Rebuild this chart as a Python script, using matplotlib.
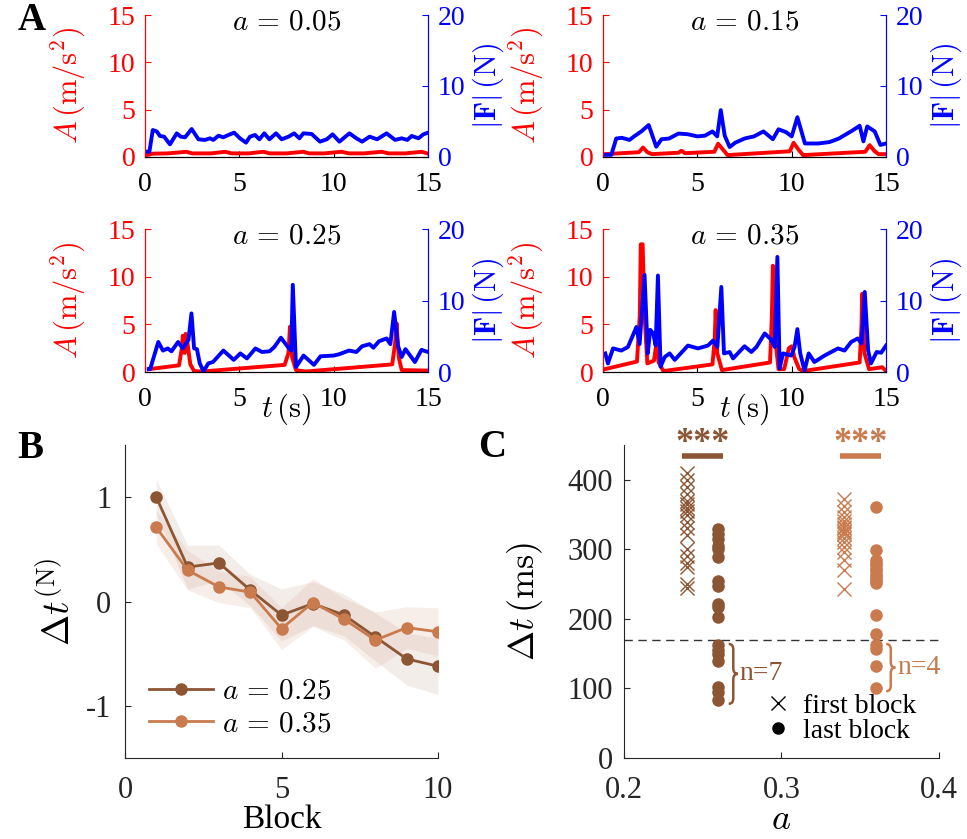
import matplotlib.pyplot as plt
from matplotlib.lines import Line2D
from matplotlib.path import Path
from matplotlib.patches import PathPatch

plt.rcParams['font.family'] = 'Liberation Serif'
plt.rcParams['mathtext.fontset'] = 'cm'

# ---------------- dados do painel A (t em s, A em m/s^2, |F| em N)
a_titles = ['0.05', '0.15', '0.25', '0.35']

tA_005 = [0.1, 0.4, 1.2, 2.2, 2.5, 3.5, 4.24, 4.6, 5.5, 6.27, 6.6, 7.5, 8.39, 8.7, 9.5, 10.42, 10.8, 11.6, 12.54, 12.9, 13.8, 14.66, 15.0]
A_005 = [0.2, 0.35, 0.38, 0.55, 0.38, 0.38, 0.55, 0.38, 0.38, 0.55, 0.38, 0.38, 0.55, 0.38, 0.38, 0.55, 0.38, 0.38, 0.55, 0.38, 0.38, 0.55, 0.35]
tF_005 = [0.09, 0.23, 0.41, 0.62, 0.79, 1.01, 1.32, 1.68, 1.89, 2.12, 2.47, 2.83, 3.18, 3.44, 3.62, 3.89, 4.15,
          4.42, 4.72, 5.03, 5.35, 5.56, 5.83, 6.06, 6.32, 6.59, 6.94, 7.24, 7.6, 7.9, 8.18, 8.39, 8.83, 9.27,
          9.63, 9.94, 10.3, 10.83, 11.2, 11.5, 11.9, 12.3, 12.8, 13.25, 13.6, 13.9, 14.13, 14.49, 14.75, 15.0]
F_005 = [0.75, 0.75, 3.8, 3.6, 2.96, 2.86, 1.78, 3.33, 2.86, 2.77, 3.94, 2.49, 2.4, 2.63, 2.4, 3.0, 2.77,
         3.1, 3.43, 2.63, 2.02, 2.86, 3.1, 2.49, 3.33, 2.49, 3.33, 2.49, 2.86, 3.33, 2.63, 3.33, 3.24, 2.16,
         2.49, 3.19, 2.16, 3.33, 2.63, 2.16, 2.86, 2.49, 3.33, 2.4, 2.63, 2.4, 2.96, 2.63, 3.19, 3.43]

tA_015 = [0.1, 1.9, 2.12, 2.35, 2.6, 4.0, 4.15, 4.35, 5.9, 6.1, 6.35, 6.6, 9.9, 10.1, 10.35, 10.6, 13.9, 14.13, 14.4, 14.6, 15.0]
A_015 = [0.3, 0.5, 1.0, 0.5, 0.3, 0.45, 0.65, 0.4, 0.55, 1.4, 0.8, 0.2, 0.6, 1.5, 0.8, 0.2, 0.55, 1.25, 0.6, 0.3, 0.3]
tF_015 = [0.1, 0.44, 0.7, 1.0, 1.4, 1.7, 2.03, 2.42, 2.82, 3.1, 3.5, 4.0, 4.5, 5.0, 5.4, 5.8, 6.05, 6.24, 6.45,
          6.71, 7.0, 7.5, 8.0, 8.5, 9.0, 9.3, 9.7, 10.0, 10.3, 10.7, 11.4, 12.0, 12.5, 13.2, 13.6, 13.8, 14.0,
          14.4, 14.7, 15.0]
F_015 = [0.3, 0.3, 2.6, 2.7, 2.4, 3.0, 3.6, 4.5, 1.45, 2.5, 2.6, 3.3, 3.2, 2.9, 3.0, 3.6, 2.9, 6.6, 3.0,
         1.4, 2.0, 2.6, 2.9, 3.6, 2.5, 3.9, 3.5, 2.9, 5.6, 1.9, 1.9, 2.1, 2.6, 3.7, 4.4, 2.2, 4.3,
         3.6, 1.7, 1.9]

tA_025 = [0.2, 1.8, 1.95, 2.0, 2.1, 2.15, 2.25, 2.4, 2.6, 3.0, 7.4, 7.6, 7.68, 7.8, 8.0, 8.5, 13.1, 13.25,
          13.33, 13.45, 13.6, 15.0]
A_025 = [0.3, 0.7, 2.5, 3.8, 2.0, 4.0, 3.0, 0.8, 0.1, 0.05, 0.75, 2.0, 4.75, 1.5, 0.2, 0.05, 0.8, 3.0,
         5.1, 1.5, 0.2, 0.15]
tF_025 = [0.2, 0.27, 0.7, 0.95, 1.2, 1.4, 1.75, 2.0, 2.3, 2.46, 2.6, 2.75, 2.9, 3.1, 3.35, 3.6, 4.15, 4.7,
          5.05, 5.4, 5.85, 6.2, 6.6, 6.85, 7.2, 7.6, 7.75, 7.83, 8.0, 8.4, 8.95, 9.3, 10.0, 10.3, 10.8, 11.2,
          11.5, 11.9, 12.1, 12.4, 12.8, 13.0, 13.2, 13.4, 13.6, 13.8, 14.05, 14.3, 14.65, 15.0]
F_025 = [0.4, 0.4, 4.2, 3.0, 3.3, 2.9, 4.2, 3.3, 4.5, 8.2, 3.3, 3.2, 1.2, 0.1, 1.2, 1.4, 3.0, 1.7,
         2.6, 1.9, 3.3, 2.8, 2.9, 3.5, 4.8, 3.4, 3.0, 12.2, 0.7, 2.3, 1.0, 2.2, 2.3, 2.5, 3.0, 2.8,
         3.6, 3.9, 3.4, 4.3, 4.7, 3.9, 8.4, 3.7, 2.1, 3.2, 2.3, 1.4, 3.1, 2.8]

tA_035 = [0.1, 1.8, 1.95, 2.0, 2.1, 2.2, 2.35, 2.7, 2.83, 2.95, 3.2, 5.8, 5.92, 5.97, 6.05, 6.3, 8.85, 8.95,
          9.0, 9.1, 9.3, 9.6, 9.85, 10.0, 10.15, 10.4, 10.6, 13.6, 13.7, 13.73, 13.85, 14.1, 14.8, 15.0]
A_035 = [0.3, 1.1, 6.0, 13.4, 13.4, 6.0, 0.9, 1.2, 3.0, 1.0, 0.1, 0.8, 3.5, 6.5, 2.0, 0.2, 1.0, 6.0,
         11.15, 4.0, 0.3, 0.3, 2.5, 2.7, 1.5, 0.3, 0.1, 1.0, 5.0, 8.2, 2.0, 0.3, 0.5, 0.1]
tF_035 = [0.12, 0.26, 0.53, 0.97, 1.32, 1.77, 1.94, 2.2, 2.37, 2.5, 2.66, 2.79, 2.91, 3.05, 3.27, 3.53, 3.8,
          4.5, 5.03, 5.56, 5.83, 6.06, 6.27, 6.41, 6.71, 6.89, 7.5, 7.86, 8.13, 8.57, 8.92, 9.1, 9.24, 9.36,
          9.54, 9.98, 10.15, 10.3, 10.45, 10.68, 10.9, 11.2, 11.74, 12.45, 12.8, 13.15, 13.5, 13.7, 13.87,
          14.05, 14.2, 14.5, 14.74, 15.0]
F_035 = [2.6, 1.2, 3.3, 3.0, 3.5, 6.3, 3.9, 13.6, 2.6, 5.9, 5.4, 3.7, 13.5, 0.75, 2.1, 2.6, 1.7,
         3.7, 3.3, 3.7, 4.4, 3.5, 11.9, 2.6, 2.8, 1.9, 3.6, 2.8, 3.5, 5.4, 4.5, 3.5, 16.1, 0.5,
         2.6, 2.3, 3.5, 6.0, 2.6, 0.2, 2.6, 1.4, 2.3, 3.3, 3.0, 4.2, 4.7, 4.0, 11.2,
         3.0, 1.2, 2.8, 2.7, 3.7]

# ---------------- dados do painel B
blocks = [1, 2, 3, 4, 5, 6, 7, 8, 9, 10]
dt_025 = [1.0, 0.33, 0.37, 0.11, -0.13, -0.02, -0.13, -0.34, -0.55, -0.62]
se_025 = [0.17, 0.21, 0.17, 0.15, 0.25, 0.21, 0.2, 0.23, 0.25, 0.27]
dt_035 = [0.71, 0.30, 0.14, 0.09, -0.26, -0.01, -0.17, -0.37, -0.25, -0.29]
se_035 = [0.16, 0.19, 0.15, 0.15, 0.2, 0.23, 0.2, 0.27, 0.2, 0.23]

# ---------------- dados do painel C (ms)
x_first_025, x_last_025 = 0.24, 0.26
x_first_035, x_last_035 = 0.34, 0.36
first_025 = [410, 400, 390, 380, 370, 365, 360, 355, 350, 340, 330, 320, 300, 290, 280, 275, 250, 245]
last_025 = [329, 322, 315, 305, 301, 289, 255, 248, 222, 217, 203, 162, 155, 150, 140, 102, 95, 83]
first_035 = [372, 363, 353, 346, 341, 336, 332, 330, 327, 325, 322, 317, 310, 303, 296, 284, 270, 243]
last_035 = [361, 299, 285, 280, 278, 272, 270, 265, 262, 258, 255, 252, 206, 178, 163, 157, 133, 101]
threshold = 170

red = '#ff0000'
blue = '#0000ff'
dark = '#8c5534'
light = '#c97b4e'

fig = plt.figure(figsize=(9.67, 8.39), dpi=100)

# ---------------- painel A
series = [(tA_005, A_005, tF_005, F_005), (tA_015, A_015, tF_015, F_015),
          (tA_025, A_025, tF_025, F_025), (tA_035, A_035, tF_035, F_035)]
positions = [[0.150, 0.8129, 0.2927, 0.1692], [0.6236, 0.8129, 0.2927, 0.1692],
             [0.150, 0.5566, 0.2927, 0.1704], [0.6236, 0.5566, 0.2927, 0.1704]]

for i, (tA, A, tF, F) in enumerate(series):
    ax = fig.add_axes(positions[i])
    ax2 = ax.twinx()
    ax.plot(tA, A, color=red, lw=2.8)
    ax2.plot(tF, F, color=blue, lw=2.8)
    ax.set_xlim(0, 15)
    ax.set_ylim(0, 15)
    ax2.set_ylim(0, 20)
    ax.set_xticks([0, 5, 10, 15])
    ax.set_yticks([0, 5, 10, 15])
    ax2.set_yticks([0, 10, 20])
    for a in (ax, ax2):
        a.spines['top'].set_visible(False)
        a.spines['left'].set_color(red)
        a.spines['right'].set_color(blue)
        a.spines['left'].set_linewidth(0.8)
        a.spines['right'].set_linewidth(0.8)
        a.spines['bottom'].set_linewidth(0.8)
    ax.tick_params(axis='x', direction='in', labelsize=20, pad=11, length=4)
    ax.tick_params(axis='y', direction='in', labelsize=20, pad=7, length=4, colors=red)
    ax2.tick_params(axis='y', direction='in', labelsize=20, pad=7, length=4, colors=blue)
    ax.set_ylabel(r'$A\,(\mathrm{m/s^2})$', color=red, fontsize=22)
    ax.yaxis.set_label_coords(-0.2, 0.5)
    ax2.set_ylabel(r'$|\mathbf{F}|\,(\mathrm{N})$', color=blue, fontsize=22)
    ax2.yaxis.set_label_coords(1.15, 0.5)
    ax.text(0.5, 0.95, r'$a\,=\,' + a_titles[i] + '$', transform=ax.transAxes,
            ha='center', va='center', fontsize=21)
    if i >= 2:
        ax.set_xlabel(r'$t\,(\mathrm{s})$', fontsize=22)
        ax.xaxis.set_label_coords(0.5, -0.26)
        ax.xaxis.label.set_va('center')

# ---------------- painel B
axB = fig.add_axes([0.1293, 0.0965, 0.3237, 0.3731])
axB.fill_between(blocks, [m + s for m, s in zip(dt_025, se_025)], [m - s for m, s in zip(dt_025, se_025)],
                 color=dark, alpha=0.1, lw=0)
axB.fill_between(blocks, [m + s for m, s in zip(dt_035, se_035)], [m - s for m, s in zip(dt_035, se_035)],
                 color=light, alpha=0.12, lw=0)
axB.plot(blocks, dt_025, '-o', color=dark, lw=2, ms=8, label=r'$a\,=\,0.25$')
axB.plot(blocks, dt_035, '-o', color=light, lw=2, ms=8, label=r'$a\,=\,0.35$')
axB.set_xlim(0, 10)
axB.set_ylim(-1.5, 1.5)
axB.set_xticks([0, 5, 10])
axB.set_yticks([-1, 0, 1])
axB.set_yticklabels(['-1', '0', '1'])
axB.tick_params(direction='in', labelsize=22, length=4, colors='#262626')
axB.tick_params(axis='x', pad=13)
axB.tick_params(axis='y', pad=10)
for s in ['top', 'right']:
    axB.spines[s].set_visible(False)
for s in ['left', 'bottom']:
    axB.spines[s].set_color('#262626')
    axB.spines[s].set_linewidth(0.8)
axB.set_xlabel('Block', fontsize=24)
axB.xaxis.set_label_coords(0.5, -0.197)
axB.xaxis.label.set_va('center')
axB.set_ylabel(r'$\Delta t^{(\mathrm{N})}$', fontsize=27)
axB.yaxis.set_label_coords(-0.15, 0.5)
axB.legend(loc='lower left', bbox_to_anchor=(0.03, 0.02), frameon=False, fontsize=21,
           handlelength=2.2, handletextpad=0.3, labelspacing=0.2, borderpad=0)

# ---------------- painel C
axC = fig.add_axes([0.6453, 0.0965, 0.3257, 0.3731])
axC.axhline(threshold, color='#333333', lw=1, ls=(0, (6, 4)))
groups = [(x_first_025, x_last_025, first_025, last_025, dark, 'n=7'),
          (x_first_035, x_last_035, first_035, last_035, light, 'n=4')]
for xf, xl, firsts, lasts, col, ntxt in groups:
    axC.plot([xf] * len(firsts), firsts, 'x', color=col, ms=10, mew=1)
    axC.plot([xl] * len(lasts), lasts, 'o', color=col, ms=8)
    # chave marcando os pontos abaixo do limiar
    below = [v for v in lasts if v < threshold]
    yt, yb = threshold - 6, min(below) - 5
    ym = (yt + yb) / 2
    x0, w = xl + 0.0065, 0.0058
    h = 8
    verts = [(x0, yt), (x0 + w / 2, yt), (x0 + w / 2, yt - h), (x0 + w / 2, ym + h),
             (x0 + w / 2, ym), (x0 + w, ym), (x0 + w / 2, ym), (x0 + w / 2, ym - h),
             (x0 + w / 2, yb + h), (x0 + w / 2, yb), (x0, yb)]
    codes = [Path.MOVETO, Path.CURVE3, Path.CURVE3, Path.LINETO, Path.CURVE3, Path.CURVE3,
             Path.CURVE3, Path.CURVE3, Path.LINETO, Path.CURVE3, Path.CURVE3]
    axC.add_patch(PathPatch(Path(verts, codes), fill=False, edgecolor=col, lw=1.8))
    axC.text(x0 + w + 0.001, ym, ntxt, color=col, fontsize=20, ha='left', va='center')
    # significância
    axC.plot([xf - 0.003, xl + 0.003], [434, 434], color=col, lw=4, solid_capstyle='butt', clip_on=False)
    axC.text((xf + xl) / 2, 428, '***', color=col, fontsize=26, fontweight='bold',
             ha='center', va='bottom', clip_on=False)
axC.set_xlim(0.2, 0.4)
axC.set_ylim(0, 450)
axC.set_xticks([0.2, 0.3, 0.4])
axC.set_yticks([0, 100, 200, 300, 400])
axC.tick_params(direction='in', labelsize=22, length=4, colors='#262626')
axC.tick_params(axis='x', pad=13)
axC.tick_params(axis='y', pad=8)
for s in ['top', 'right']:
    axC.spines[s].set_visible(False)
for s in ['left', 'bottom']:
    axC.spines[s].set_color('#262626')
    axC.spines[s].set_linewidth(0.8)
axC.set_xlabel(r'$a$', fontsize=26)
axC.xaxis.set_label_coords(0.5, -0.2)
axC.xaxis.label.set_va('center')
axC.set_ylabel(r'$\Delta t\,(\mathrm{ms})$', fontsize=26)
axC.yaxis.set_label_coords(-0.25, 0.5)
handles = [Line2D([], [], ls='', marker='x', color='black', ms=10, mew=1),
           Line2D([], [], ls='', marker='o', color='black', ms=8)]
axC.legend(handles, ['first block', 'last block'], loc='lower left', bbox_to_anchor=(0.4, 0.0),
           frameon=False, fontsize=20, handlelength=1, handletextpad=0.4, labelspacing=0.0, borderpad=0)

# letras dos painéis
fig.text(0.018, 0.975, 'A', fontsize=28, fontweight='bold', va='center')
fig.text(0.018, 0.465, 'B', fontsize=28, fontweight='bold', va='center')
fig.text(0.494, 0.467, 'C', fontsize=28, fontweight='bold', va='center')

fig.savefig('out.png', dpi=100)
